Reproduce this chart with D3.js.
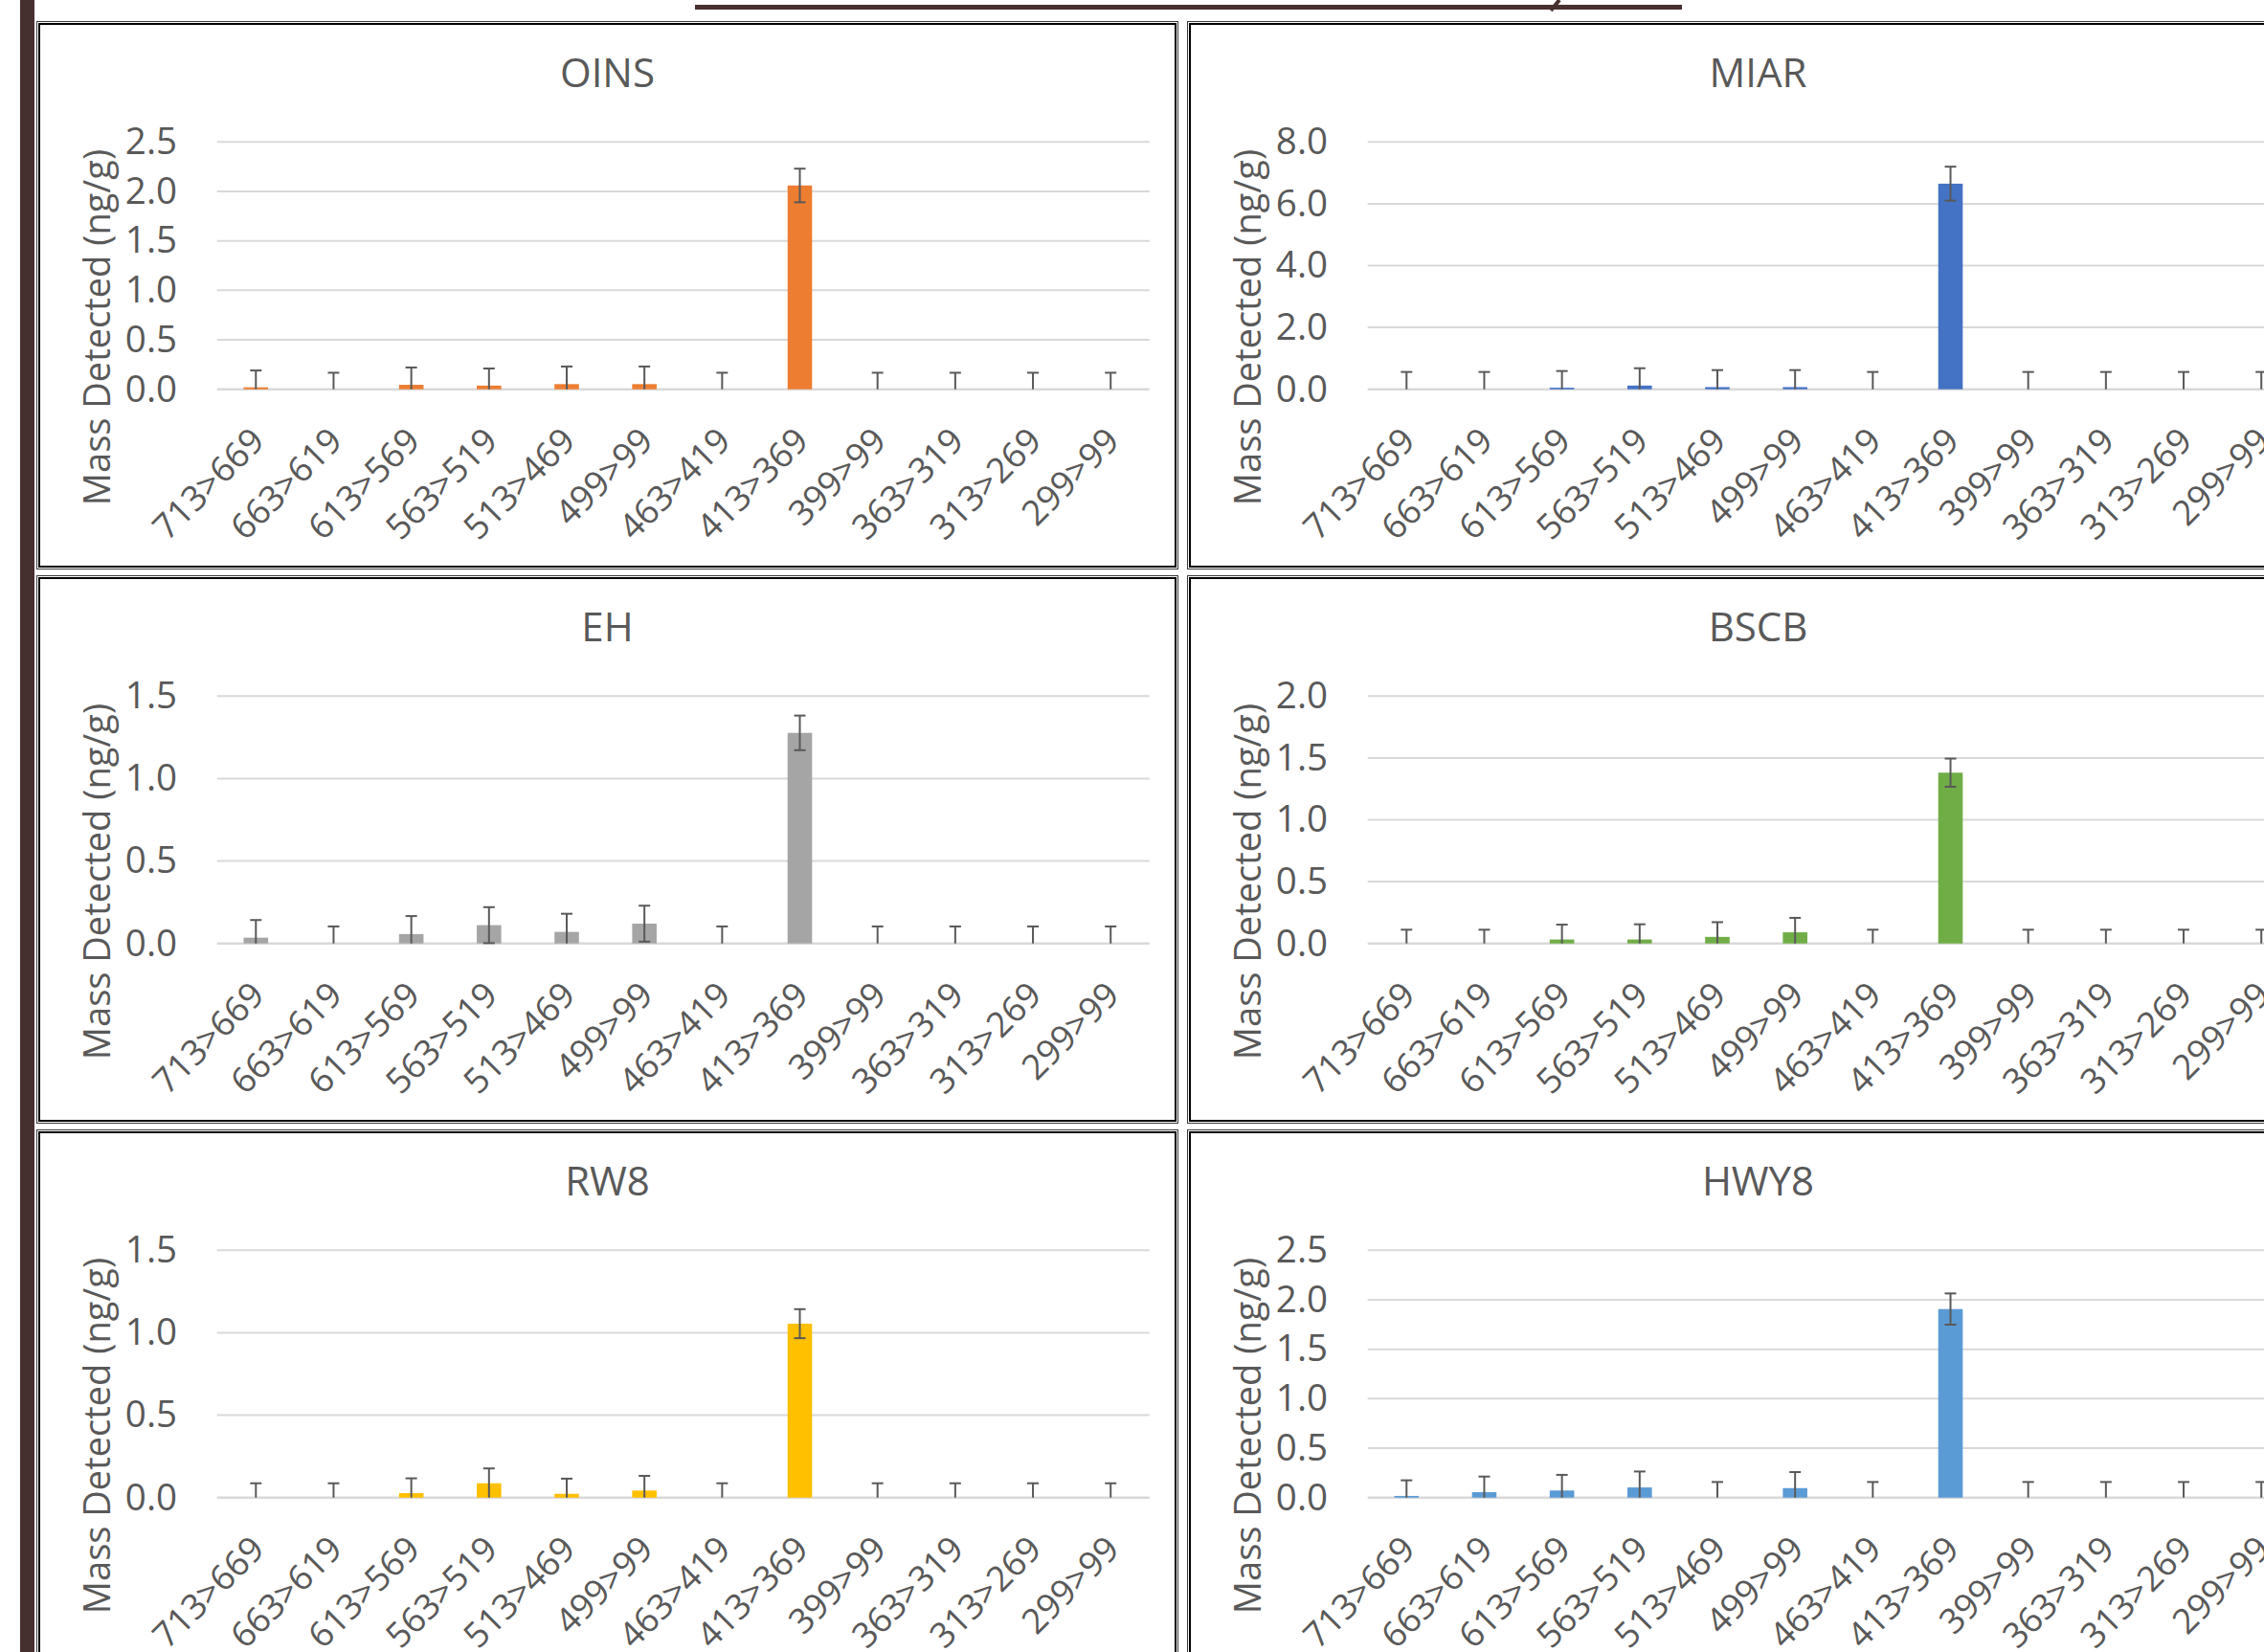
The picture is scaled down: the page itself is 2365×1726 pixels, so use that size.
<!DOCTYPE html>
<html>
<head>
<meta charset="utf-8">
<script src="https://cdn.jsdelivr.net/npm/d3@7"></script>
<style>
  html, body { margin: 0; padding: 0; background: #fff; overflow: hidden; }
  svg { display: block; }
  text { font-family: "Open Sans", "Noto Sans", sans-serif; }
</style>
</head>
<body>
<svg id="chart" width="2365" height="1726"></svg>
<script>
// MRM transitions (precursor > product ion)
const categories = ["713>669", "663>619", "613>569", "563>519", "513>469", "499>99",
                    "463>419", "413>369", "399>99", "363>319", "313>269", "299>99"];

// Sampling sites, in panel order (row by row, left to right)
const siteNames = ["OINS", "MIAR", "EH", "BSCB", "RW8", "HWY8"];

// Mean mass detected (ng/g) per transition, per site
const oinsValues = [0.02, 0, 0.045, 0.037, 0.052, 0.052, 0, 2.06, 0, 0, 0, 0];
const miarValues = [0, 0, 0.05, 0.12, 0.07, 0.07, 0, 6.65, 0, 0, 0, 0];
const ehValues   = [0.035, 0, 0.057, 0.111, 0.07, 0.12, 0, 1.277, 0, 0, 0, 0];
const bscbValues = [0, 0, 0.032, 0.032, 0.053, 0.09, 0, 1.381, 0, 0, 0, 0];
const rw8Values  = [0, 0, 0.027, 0.087, 0.023, 0.043, 0, 1.055, 0, 0, 0, 0];
const hwy8Values = [0.017, 0.055, 0.072, 0.103, 0, 0.096, 0, 1.906, 0, 0, 0, 0];

// Standard deviation of each mean (error bars)
const oinsErrors = [0.17, 0.167, 0.175, 0.173, 0.178, 0.178, 0.167, 0.17, 0.167, 0.167, 0.167, 0.167];
const miarErrors = [0.56, 0.56, 0.54, 0.56, 0.55, 0.55, 0.56, 0.55, 0.56, 0.56, 0.56, 0.56];
const ehErrors   = [0.107, 0.103, 0.109, 0.109, 0.11, 0.109, 0.103, 0.105, 0.103, 0.103, 0.103, 0.103];
const bscbErrors = [0.111, 0.111, 0.12, 0.123, 0.119, 0.117, 0.111, 0.114, 0.111, 0.111, 0.111, 0.111];
const rw8Errors  = [0.087, 0.087, 0.09, 0.09, 0.092, 0.089, 0.087, 0.088, 0.087, 0.087, 0.087, 0.087];
const hwy8Errors = [0.158, 0.158, 0.158, 0.161, 0.158, 0.162, 0.158, 0.158, 0.158, 0.158, 0.158, 0.158];

// Value-axis tick labels for each panel
const oinsTicks = [0, 0.5, 1.0, 1.5, 2.0, 2.5];
const miarTicks = [0, 2.0, 4.0, 6.0, 8.0];
const ehTicks   = [0, 0.5, 1.0, 1.5];
const bscbTicks = [0, 0.5, 1.0, 1.5, 2.0];
const rw8Ticks  = [0, 0.5, 1.0, 1.5];
const hwy8Ticks = [0, 0.5, 1.0, 1.5, 2.0, 2.5];

const yAxisTitle = "Mass Detected (ng/g)";

const siteValues = [oinsValues, miarValues, ehValues, bscbValues, rw8Values, hwy8Values];
const siteErrors = [oinsErrors, miarErrors, ehErrors, bscbErrors, rw8Errors, hwy8Errors];
const siteTicks  = [oinsTicks, miarTicks, ehTicks, bscbTicks, rw8Ticks, hwy8Ticks];
const siteColors = ["#ED7D31", "#4472C4", "#A5A5A5", "#70AD47", "#FFC000", "#5B9BD5"];

// ---- layout ----
const W = 2365, H = 1726;
const colX = [38, 1240];
const rowY = [22, 601, 1180];
const panelW = 1193, panelH = 573;
const plot = { left: 188.7, top: 126.3, width: 974.1, height: 258.4 };
const textGrey = "#595959";
const brown = "#46302F";

const svg = d3.select("#chart");

// page decoration: side bar and heading rule
svg.append("rect").attr("x", 21).attr("y", 0).attr("width", 15).attr("height", H).attr("fill", brown);
svg.append("rect").attr("x", 726).attr("y", 5).attr("width", 1031).attr("height", 5).attr("fill", brown);
svg.append("line").attr("x1", 1629).attr("y1", 0).attr("x2", 1620).attr("y2", 11)
  .attr("stroke", brown).attr("stroke-width", 4);

const x = d3.scaleBand()
  .domain(categories)
  .range([0, plot.width])
  .paddingInner(0.685)
  .paddingOuter(0.685 / 2);

siteNames.forEach((name, i) => {
  const px = colX[i % 2], py = rowY[Math.floor(i / 2)];
  const values = siteValues[i], errors = siteErrors[i], ticks = siteTicks[i];
  const g = svg.append("g").attr("transform", `translate(${px},${py})`);

  // white panel with a double frame
  g.append("rect").attr("x", 0).attr("y", 0).attr("width", panelW).attr("height", panelH)
    .attr("fill", "#fff");
  g.append("rect").attr("x", 0.5).attr("y", 0.5).attr("width", panelW - 1).attr("height", panelH - 1)
    .attr("fill", "none").attr("stroke", "#3a3a3a").attr("stroke-width", 1);
  g.append("rect").attr("x", 3).attr("y", 3).attr("width", panelW - 6).attr("height", panelH - 6)
    .attr("fill", "none").attr("stroke", "#000").attr("stroke-width", 2);

  // title
  g.append("text").attr("x", panelW / 2).attr("y", 69)
    .attr("text-anchor", "middle").attr("font-size", 42).attr("fill", textGrey)
    .text(name);

  // y-axis title
  g.append("text")
    .attr("transform", `translate(77,320) rotate(-90)`)
    .attr("text-anchor", "middle").attr("font-size", 38).attr("fill", textGrey)
    .text(yAxisTitle);

  const y = d3.scaleLinear().domain([0, d3.max(ticks)]).range([plot.height, 0]);
  const pg = g.append("g").attr("transform", `translate(${plot.left},${plot.top})`);

  // horizontal gridlines
  pg.append("g").selectAll("line").data(ticks).join("line")
    .attr("x1", 0).attr("x2", plot.width)
    .attr("y1", d => y(d)).attr("y2", d => y(d))
    .attr("stroke", "#D9D9D9").attr("stroke-width", d => d === 0 ? 2.6 : 2);

  // value axis labels
  const yAxis = d3.axisLeft(y).tickValues(ticks).tickFormat(d3.format(".1f"))
    .tickSize(0).tickPadding(41.7);
  const ya = pg.append("g").call(yAxis);
  ya.select(".domain").remove();
  ya.selectAll("text").attr("font-size", 38.5).attr("fill", textGrey)
    .attr("font-family", "\"Open Sans\", sans-serif");

  // category axis labels, rotated
  const xAxis = d3.axisBottom(x).tickSize(0).tickPadding(0);
  const xa = pg.append("g").attr("transform", `translate(0,${plot.height})`).call(xAxis);
  xa.select(".domain").remove();
  xa.selectAll("text")
    .attr("font-size", 36.5).attr("fill", textGrey)
    .attr("font-family", "\"Open Sans\", sans-serif")
    .attr("text-anchor", "end")
    .attr("dy", 0)
    .attr("y", 0)
    .attr("transform", "translate(11,56) rotate(-45)");

  // bars
  pg.append("g").selectAll("rect").data(categories).join("rect")
    .attr("x", c => x(c))
    .attr("width", x.bandwidth())
    .attr("y", (c, k) => y(values[k]))
    .attr("height", (c, k) => y(0) - y(values[k]))
    .attr("fill", siteColors[i]);

  // error bars (axis starts at zero, so lower whiskers are clipped there)
  const eg = pg.append("g").attr("stroke", "#595959").attr("stroke-width", 2).attr("fill", "none");
  categories.forEach((c, k) => {
    const cx = x(c) + x.bandwidth() / 2;
    const hi = values[k] + errors[k];
    const lo = values[k] - errors[k];
    const lowVal = Math.max(0, lo);
    eg.append("line").attr("x1", cx).attr("x2", cx).attr("y1", y(hi)).attr("y2", y(lowVal));
    eg.append("line").attr("x1", cx - 6).attr("x2", cx + 6).attr("y1", y(hi)).attr("y2", y(hi));
    if (lo >= 0) {
      eg.append("line").attr("x1", cx - 6).attr("x2", cx + 6).attr("y1", y(lo)).attr("y2", y(lo));
    }
  });
});
</script>
</body>
</html>
